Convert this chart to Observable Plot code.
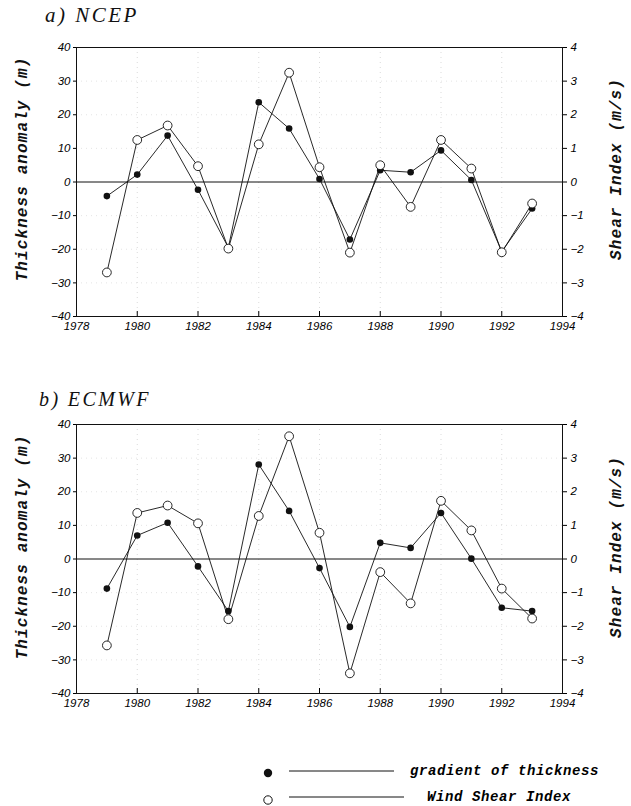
<!DOCTYPE html>
<html><head><meta charset="utf-8">
<script src="https://cdn.jsdelivr.net/npm/d3@7"></script>
<script src="https://cdn.jsdelivr.net/npm/@observablehq/plot@0.6"></script>
<style>
body{margin:0;background:#fff;width:631px;height:806px;position:relative;overflow:hidden}
.title{position:absolute;font-family:"Liberation Serif";font-style:italic;line-height:24px;color:#111;white-space:nowrap}
.panel{position:absolute;left:0;width:631px}
.panel svg{font-family:"Liberation Sans";font-style:italic;font-size:11.5px}
.ylab{position:absolute;font:bold italic 16px "Liberation Mono";letter-spacing:1.1px;color:#111;white-space:nowrap;line-height:18px;transform:translate(-50%,-50%) rotate(-90deg)}
#legend{position:absolute;left:0;top:755px}
#legend text{font:bold italic 14px "Liberation Mono";letter-spacing:0.6px}
</style></head>
<body>
<div class="title" style="top:3px;left:45px;font-size:21px;letter-spacing:2.5px">a) NCEP</div>
<div class="panel" id="pa" style="top:30px"></div>
<div class="title" style="top:387px;left:39px;font-size:20px;letter-spacing:2.4px">b) ECMWF</div>
<div class="panel" id="pb" style="top:407px"></div>
<div class="ylab" id="la1" style="left:23px;top:169px"></div>
<div class="ylab" id="ra1" style="left:617px;top:169px"></div>
<div class="ylab" id="la2" style="left:23px;top:547px"></div>
<div class="ylab" id="ra2" style="left:617px;top:547px"></div>
<svg id="legend" width="631" height="51"></svg>
<script>
const years = [1979,1980,1981,1982,1983,1984,1985,1986,1987,1988,1989,1990,1991,1992,1993];
// a) NCEP
const ncepThickness = [-4.2,2.2,13.8,-2.3,-19.5,23.7,15.9,0.9,-17.1,3.5,2.9,9.4,0.6,-20.7,-7.9];
const ncepShear = [-2.69,1.25,1.68,0.47,-1.98,1.12,3.25,0.44,-2.10,0.50,-0.74,1.25,0.40,-2.09,-0.64];
// b) ECMWF
const ecmwfThickness = [-8.8,7.0,10.8,-2.2,-15.5,28.1,14.3,-2.7,-20.2,4.8,3.3,13.7,0.1,-14.5,-15.5];
const ecmwfShear = [-2.57,1.37,1.59,1.06,-1.79,1.28,3.65,0.78,-3.40,-0.39,-1.32,1.73,0.85,-0.88,-1.77];
const yTicks = [-40,-30,-20,-10,0,10,20,30,40];
const xTicks = [1978,1980,1982,1984,1986,1988,1990,1992,1994];
const gridYears = [1980,1982,1984,1986,1988,1990,1992];
const gridVals = [-30,-20,-10,10,20,30];
const leftTitle = "Thickness anomaly (m)";
const rightTitle = "Shear Index (m/s)";
const legendLabels = ["gradient of thickness","Wind Shear Index"];

for (const id of ["la1","la2"]) document.getElementById(id).textContent = leftTitle;
for (const id of ["ra1","ra2"]) document.getElementById(id).textContent = rightTitle;

const minus = s => String(s).replace("-", "\u2212");

function panel(thick, shear){
  const rowsT = years.map((y,i)=>({year:y, v:thick[i]}));
  const rowsS = years.map((y,i)=>({year:y, v:shear[i]*10}));
  return Plot.plot({
    width:631, height:312, marginTop:17, marginBottom:26, marginLeft:76, marginRight:69,
    x:{domain:[1978,1994]}, y:{domain:[-40,40]},
    marks:[
      Plot.gridX(gridYears,{stroke:"#999", strokeDasharray:"1,4", strokeOpacity:0.35}),
      Plot.gridY(gridVals,{stroke:"#999", strokeDasharray:"1,4", strokeOpacity:0.25}),
      Plot.frame({stroke:"#111"}),
      Plot.ruleY([0],{stroke:"#111"}),
      Plot.axisY({ticks:yTicks, tickSize:3, tickPadding:3, tickFormat:minus, label:null}),
      Plot.axisY({anchor:"right", ticks:yTicks, tickSize:4, tickPadding:4, tickFormat:d=>minus(d/10), label:null}),
      Plot.axisX({ticks:xTicks, tickSize:0, tickPadding:5, tickFormat:d=>String(d), label:null}),
      Plot.axisX({ticks:gridYears, tickSize:-5, text:null, label:null}),
      Plot.line(rowsT,{x:"year", y:"v", stroke:"#111", strokeWidth:0.9}),
      Plot.line(rowsS,{x:"year", y:"v", stroke:"#111", strokeWidth:0.9}),
      Plot.dot(rowsT,{x:"year", y:"v", r:3.3, fill:"#111"}),
      Plot.dot(rowsS,{x:"year", y:"v", r:4.4, fill:"white", stroke:"#111", strokeWidth:0.9})
    ]
  });
}
document.getElementById("pa").append(panel(ncepThickness, ncepShear));
document.getElementById("pb").append(panel(ecmwfThickness, ecmwfShear));

const lg = d3.select("#legend");
lg.append("circle").attr("cx",268).attr("cy",18).attr("r",4.2).attr("fill","#111");
lg.append("line").attr("x1",289).attr("x2",394).attr("y1",16).attr("y2",16).attr("stroke","#111");
lg.append("text").attr("x",410).attr("y",20).text(legendLabels[0]);
lg.append("circle").attr("cx",268).attr("cy",45).attr("r",4.2).attr("fill","white").attr("stroke","#111");
lg.append("line").attr("x1",289).attr("x2",404).attr("y1",42).attr("y2",42).attr("stroke","#111");
lg.append("text").attr("x",427).attr("y",46).text(legendLabels[1]);
</script>
</body></html>
